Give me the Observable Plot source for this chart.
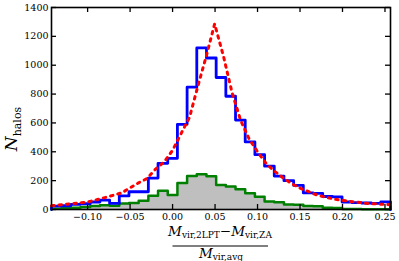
<!DOCTYPE html>
<html>
<head>
<meta charset="utf-8">
<script src="https://cdn.jsdelivr.net/npm/d3@7"></script>
<script src="https://cdn.jsdelivr.net/npm/@observablehq/plot@0.6"></script>
<style>
  html, body { margin: 0; padding: 0; background: white; }
  svg text { font-family: 'DejaVu Serif', serif; }
</style>
</head>
<body>
<div id="chart"></div>
<script>
// Histogram bin edges (35 bins)
const binEdges = [-0.1425, -0.1311, -0.1197, -0.1083, -0.0969, -0.0855, -0.0741, -0.0627, -0.0513, -0.0399,
  -0.0285, -0.0171, -0.0057, 0.0057, 0.0171, 0.0285, 0.0399, 0.0513, 0.0627, 0.0741,
  0.0855, 0.0969, 0.1083, 0.1197, 0.1311, 0.1425, 0.1539, 0.1653, 0.1767, 0.1881,
  0.1995, 0.2109, 0.2223, 0.2337, 0.2451, 0.2565];

// Blue histogram counts
const blueCounts = [24, 26, 36, 40, 52, 65, 42, 94, 123, 123, 218, 320, 355, 590, 848, 1120, 1050, 915, 785, 620,
  468, 380, 300, 232, 200, 167, 115, 112, 90, 87, 52, 48, 45, 42, 53];

// Green (filled grey) histogram counts
const greenCounts = [6, 8, 12, 18, 25, 30, 26, 42, 45, 60, 95, 130, 100, 183, 232, 245, 230, 170, 160, 140,
  112, 88, 55, 50, 35, 33, 25, 22, 12, 10, 4, 3, 2, 1, 1];

// Red dotted fit curve
const redX = [-0.1425, -0.12, -0.10, -0.08, -0.06, -0.04, -0.03, -0.02, -0.01, 0.00, 0.01, 0.02, 0.03, 0.04, 0.0495,
  0.06, 0.07, 0.08, 0.09, 0.10, 0.11, 0.12, 0.13, 0.14, 0.15, 0.17, 0.19, 0.21, 0.23, 0.2565];
const redY = [26, 40, 52, 82, 115, 185, 215, 280, 330, 410, 526, 640, 860, 1070, 1286,
  1060, 810, 620, 490, 400, 320, 265, 220, 180, 148, 100, 72, 55, 42, 33];

// Tick labels
const xTicks = [-0.10, -0.05, 0.00, 0.05, 0.10, 0.15, 0.20, 0.25];
const yTicks = [0, 200, 400, 600, 800, 1000, 1200, 1400];

function steps(counts) {
  const pts = [{x: binEdges[0], y: 0}];
  counts.forEach((c, i) => pts.push({x: binEdges[i], y: c}));
  pts.push({x: binEdges[binEdges.length - 1], y: counts[counts.length - 1]});
  pts.push({x: binEdges[binEdges.length - 1], y: 0});
  return pts;
}
const blueSteps = steps(blueCounts);
const greenSteps = steps(greenCounts);
const redPts = redX.map((x, i) => ({x, y: redY[i]}));

const innerH = 261 - 7 - 52;
const innerW = 399 - 51 - 9;
const tl = 5;

const plot = Plot.plot({
  width: 399,
  height: 261,
  marginLeft: 51,
  marginRight: 9,
  marginTop: 7,
  marginBottom: 52,
  style: {fontFamily: "'DejaVu Serif', serif", fontSize: "9.5px", background: "white", color: "black"},
  x: {domain: [-0.1425, 0.2565], ticks: xTicks, tickFormat: d3.format(".2f"), tickSize: 0, tickPadding: 4, label: null},
  y: {domain: [0, 1400], ticks: yTicks, tickFormat: d3.format("d"), tickSize: 0, tickPadding: 3, label: null},
  marks: [
    Plot.areaY(greenSteps, {x: "x", y: "y", curve: "step-after", fill: "#bfbfbf"}),
    Plot.line(greenSteps, {x: "x", y: "y", curve: "step-after", stroke: "#008000", strokeWidth: 2.5}),
    Plot.line(blueSteps, {x: "x", y: "y", curve: "step-after", stroke: "#0000ff", strokeWidth: 2.8}),
    Plot.line(redPts, {x: "x", y: "y", stroke: "#ff0000", strokeWidth: 3, strokeDasharray: "2.5,5"}),
    Plot.ruleX(xTicks, {insetTop: innerH - tl, stroke: "black", strokeWidth: 1.3}),
    Plot.ruleX(xTicks, {insetBottom: innerH - tl, stroke: "black", strokeWidth: 1.3}),
    Plot.ruleY(yTicks, {insetRight: innerW - tl, stroke: "black", strokeWidth: 1.3}),
    Plot.ruleY(yTicks, {insetLeft: innerW - tl, stroke: "black", strokeWidth: 1.3}),
    Plot.frame({stroke: "black", strokeWidth: 1.6})
  ]
});

document.getElementById("chart").appendChild(plot);

const svg = d3.select(plot);
// Y label: N_halos
const yl = svg.append("text")
  .attr("transform", "translate(17,129) rotate(-90)")
  .attr("fill", "black");
yl.append("tspan").attr("font-style", "italic").attr("font-size", 17).text("N");
yl.append("tspan").attr("font-size", 11).attr("dy", 4).text("halos");

// X label: fraction
const num = svg.append("text")
  .attr("x", 220).attr("y", 235.5)
  .attr("text-anchor", "middle")
  .attr("fill", "black");
num.append("tspan").attr("font-style", "italic").attr("font-size", 13.5).text("M");
num.append("tspan").attr("font-size", 9).attr("dy", 2.5).text("vir,2LPT");
num.append("tspan").attr("font-size", 13.5).attr("dy", -2.5).text("\u2212");
num.append("tspan").attr("font-style", "italic").attr("font-size", 13.5).text("M");
num.append("tspan").attr("font-size", 9).attr("dy", 2.5).text("vir,ZA");

svg.append("line")
  .attr("x1", 172.5).attr("x2", 268).attr("y1", 246).attr("y2", 246)
  .attr("stroke", "black").attr("stroke-width", 1);

const den = svg.append("text")
  .attr("x", 221).attr("y", 257.5)
  .attr("text-anchor", "middle")
  .attr("fill", "black");
den.append("tspan").attr("font-style", "italic").attr("font-size", 13.5).text("M");
den.append("tspan").attr("font-size", 9).attr("dy", 2.5).text("vir,avg");
</script>
</body>
</html>
